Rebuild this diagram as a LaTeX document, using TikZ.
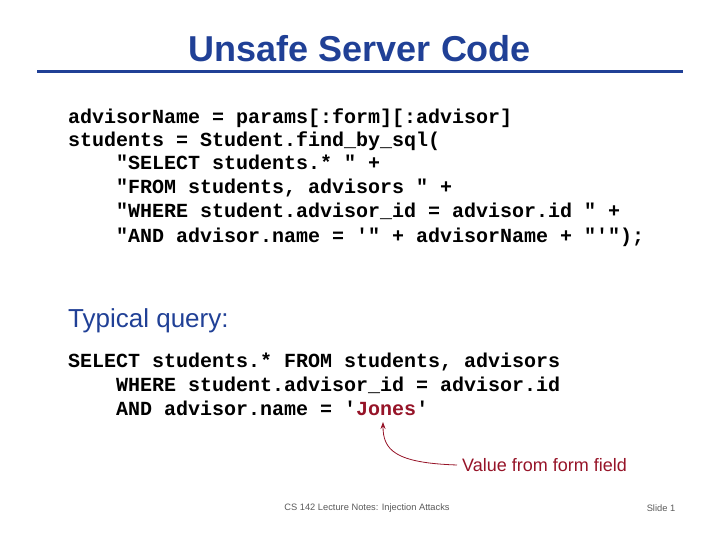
\documentclass[tikz,border=0pt]{standalone}
\usepackage{fontspec}
\setmainfont{Liberation Sans}
\setmonofont{Liberation Mono}
\usetikzlibrary{arrows.meta}
\definecolor{titleblue}{RGB}{32,64,150}
\definecolor{darkred}{RGB}{150,20,40}
\definecolor{footgray}{RGB}{90,90,90}
\tikzset{
  code/.style={anchor=base west, inner sep=0pt, font=\fontsize{20}{20}\selectfont\ttfamily\bfseries},
  foot/.style={inner sep=0pt, font=\fontsize{9.3}{9.3}\selectfont, text=footgray}
}
\begin{document}
\begin{tikzpicture}[x=1pt,y=1pt]
\useasboundingbox (0,0) rectangle (720,540);
% title
\node[text=titleblue, font=\fontsize{36}{36}\selectfont\bfseries] (title) at (360,491) {Unsafe Server Code};
\draw[titleblue, line width=3pt] (37,468) -- (683,468);
% server code
\node[code] (c1) at (68,416) {advisorName = params[:form][:advisor]};
\node[code] (c2) at (68,393) {students = Student.find\_by\_sql(};
\node[code] (c3) at (116,370) {"SELECT students.* " +};
\node[code] (c4) at (116,346) {"FROM students, advisors " +};
\node[code] (c5) at (116,322) {"WHERE student.advisor\_id = advisor.id " +};
\node[code] (c6) at (116,297) {"AND advisor.name = '" + advisorName + "'");};
% typical query
\node[anchor=base west, inner sep=0pt, text=titleblue, font=\fontsize{26}{26}\selectfont] (typ) at (68,212) {Typical query:};
\node[code] (q1) at (68,172) {SELECT students.* FROM students, advisors};
\node[code] (q2) at (116,148) {WHERE student.advisor\_id = advisor.id};
\node[code] (q3) at (116,124) {AND advisor.name = '\textcolor{darkred}{Jones}'};
\coordinate (jones) at (383,118);
\node[anchor=west, inner sep=0pt, text=darkred, font=\fontsize{18}{18}\selectfont] (val) at (462,75) {Value from form field};
\draw[darkred, thick, -{Stealth[length=7pt,width=5pt]}] ([xshift=-5pt]val.west) .. controls (395,77) and (383,90) .. (jones);
% footer
\node[foot] (ft) at (367,32) {CS 142 Lecture Notes: Injection Attacks};
\node[foot] (sl) at (661,32) {Slide 1};
\end{tikzpicture}
\end{document}
